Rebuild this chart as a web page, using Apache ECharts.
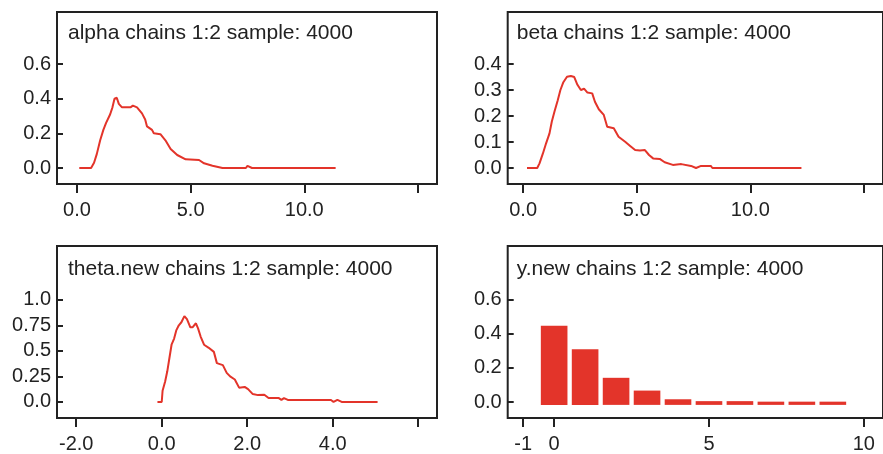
<!DOCTYPE html>
<html>
<head>
<meta charset="utf-8">
<script src="https://cdn.jsdelivr.net/npm/echarts@6/dist/echarts.min.js"></script>
<style>
html,body{margin:0;padding:0;background:#fff;}
#c{width:883px;height:454px;}
</style>
</head>
<body>
<div id="c"></div>
<script>
// ---- data ----
const titles = [
  'alpha chains 1:2 sample: 4000',
  'beta chains 1:2 sample: 4000',
  'theta.new chains 1:2 sample: 4000',
  'y.new chains 1:2 sample: 4000'
];

const alphaX = [0.1,0.62,0.75,0.87,1.02,1.16,1.28,1.46,1.56,1.65,1.75,1.84,1.98,2.35,2.46,2.64,2.86,3.0,3.08,3.3,3.38,3.67,3.89,4.12,4.41,4.78,5.37,5.59,5.96,6.4,7.43,7.5,7.58,7.7,11.38];
const alphaY = [0,0,0.03,0.08,0.16,0.22,0.26,0.31,0.35,0.40,0.405,0.37,0.35,0.35,0.36,0.35,0.315,0.28,0.24,0.22,0.20,0.195,0.16,0.11,0.075,0.05,0.046,0.027,0.013,0,0,0.012,0.012,0,0];

const betaX = [0.17,0.62,0.72,0.87,1.01,1.16,1.26,1.38,1.52,1.64,1.77,1.93,2.1,2.25,2.39,2.54,2.68,2.83,3.04,3.16,3.33,3.55,3.70,3.99,4.20,4.49,4.71,4.93,5.14,5.36,5.54,5.72,6.01,6.23,6.59,6.96,7.39,7.61,7.83,8.26,8.33,12.25];
const betaY = [0,0,0.018,0.056,0.095,0.133,0.178,0.217,0.26,0.30,0.33,0.351,0.354,0.35,0.32,0.30,0.305,0.29,0.287,0.255,0.226,0.204,0.159,0.153,0.12,0.101,0.085,0.069,0.067,0.069,0.05,0.037,0.035,0.022,0.012,0.015,0.008,0,0.008,0.008,0,0];

const thetaX = [-0.1,0.0,0.02,0.08,0.13,0.18,0.23,0.29,0.34,0.40,0.46,0.53,0.59,0.67,0.72,0.80,0.85,0.91,0.99,1.10,1.22,1.29,1.43,1.52,1.60,1.71,1.81,1.94,2.02,2.13,2.25,2.40,2.50,2.74,2.80,2.86,2.95,3.96,4.02,4.11,4.21,5.05];
const thetaY = [0,0,0.11,0.20,0.30,0.43,0.56,0.62,0.70,0.75,0.78,0.84,0.81,0.73,0.73,0.77,0.72,0.64,0.56,0.53,0.49,0.38,0.36,0.285,0.25,0.22,0.14,0.147,0.125,0.077,0.067,0.07,0.038,0.038,0.02,0.038,0.02,0.02,0,0.02,0,0];

const ynewX = [0,1,2,3,4,5,6,7,8,9];
const ynewY = [0.448,0.310,0.142,0.067,0.016,0.005,0.005,0.002,0.002,0.002];

// tick values and labels
const alphaXTicks = [0,5,10,15];
const alphaXLabels = ['0.0','5.0','10.0'];
const alphaYTicks = [0,0.2,0.4,0.6];
const alphaYLabels = ['0.0','0.2','0.4','0.6'];

const betaXTicks = [0,5,10,15];
const betaXLabels = ['0.0','5.0','10.0'];
const betaYTicks = [0,0.1,0.2,0.3,0.4];
const betaYLabels = ['0.0','0.1','0.2','0.3','0.4'];

const thetaXTicks = [-2,0,2,4,6];
const thetaXLabels = ['-2.0','0.0','2.0','4.0'];
const thetaYTicks = [0,0.25,0.5,0.75,1.0];
const thetaYLabels = ['0.0','0.25','0.5','0.75','1.0'];

const ynewXTicks = [-1,0,5,10];
const ynewXLabels = ['-1','0','5','10'];
const ynewYTicks = [0,0.2,0.4,0.6];
const ynewYLabels = ['0.0','0.2','0.4','0.6'];

// ---- chart ----
const RED = '#e3342a';
const INK = '#222';
const FONT = 'Liberation Sans, Arial, sans-serif';

const grids = [
  {left:57, top:12, width:380, height:172},
  {left:507.7, top:12, width:380, height:172},
  {left:57, top:246, width:380, height:175},
  {left:507.7, top:246, width:380, height:175}
];
const xr = [[-0.88,15.84],[-0.68,15.84],[-2.45,6.44],[-1.5,10.62]];
const yr = [[-0.0923,0.9],[-0.0615,0.6],[-0.157,1.526],[-0.094,0.916]];
const xt = [[alphaXTicks,alphaXLabels],[betaXTicks,betaXLabels],[thetaXTicks,thetaXLabels],[ynewXTicks,ynewXLabels]];
const yt = [[alphaYTicks,alphaYLabels],[betaYTicks,betaYLabels],[thetaYTicks,thetaYLabels],[ynewYTicks,ynewYLabels]];

function mkX(i){
  const [ticks, labels] = xt[i];
  return {
    type:'value', gridIndex:i, min:xr[i][0], max:xr[i][1], position:'bottom',
    axisLine:{show:false, onZero:false}, splitLine:{show:false},
    axisTick:{show:true, inside:false, length:9, lineStyle:{color:INK,width:2}, customValues:ticks},
    axisLabel:{show:true, customValues:labels.map(l=>parseFloat(l)), formatter:(v)=>{
      const k = labels.findIndex(l=>Math.abs(parseFloat(l)-v)<1e-9); return k>=0?labels[k]:'';},
      color:INK, fontSize:20, fontFamily:FONT, margin:16, hideOverlap:false, showMinLabel:true, showMaxLabel:true}
  };
}
function mkY(i){
  const [ticks, labels] = yt[i];
  return {
    type:'value', gridIndex:i, min:yr[i][0], max:yr[i][1], position:'left',
    axisLine:{show:false, onZero:false}, splitLine:{show:false},
    axisTick:{show:true, inside:true, length:6, lineStyle:{color:INK,width:2}, customValues:ticks},
    axisLabel:{show:true, customValues:ticks, formatter:(v)=>{
      const k = ticks.findIndex(t=>Math.abs(t-v)<1e-9); return k>=0?labels[k]:'';},
      color:INK, fontSize:20, fontFamily:FONT, margin:6, hideOverlap:false}
  };
}

const BAR_BASE = -0.017;
const BAR_HALF = 0.43;

const option = {
  animation:false,
  backgroundColor:'#fff',
  title: titles.map((t,i)=>({
    text:t, left:[68,516.7,68,516.7][i], top:[23,23,259,259][i],
    textStyle:{color:INK, fontSize:21, fontWeight:'normal', fontFamily:FONT}, padding:0
  })),
  grid: grids.map(g=>Object.assign({show:true, borderColor:INK, borderWidth:2, backgroundColor:'#fff', containLabel:false}, g)),
  xAxis:[0,1,2,3].map(mkX),
  yAxis:[0,1,2,3].map(mkY),
  series:[
    {type:'line', xAxisIndex:0, yAxisIndex:0, data:alphaX.map((x,k)=>[x,alphaY[k]]), showSymbol:false, lineStyle:{color:RED,width:2}, itemStyle:{color:RED}},
    {type:'line', xAxisIndex:1, yAxisIndex:1, data:betaX.map((x,k)=>[x,betaY[k]]), showSymbol:false, lineStyle:{color:RED,width:2}, itemStyle:{color:RED}},
    {type:'line', xAxisIndex:2, yAxisIndex:2, data:thetaX.map((x,k)=>[x,thetaY[k]]), showSymbol:false, lineStyle:{color:RED,width:2}, itemStyle:{color:RED}},
    {type:'custom', xAxisIndex:3, yAxisIndex:3, data:ynewX.map((x,k)=>[x,ynewY[k]]),
      renderItem:(params, api)=>{
        const x = api.value(0), v = api.value(1);
        const p0 = api.coord([x-BAR_HALF, v]);
        const p1 = api.coord([x+BAR_HALF, BAR_BASE]);
        return {type:'rect', shape:{x:p0[0], y:p0[1], width:p1[0]-p0[0], height:p1[1]-p0[1]}, style:{fill:RED}};
      }
    }
  ]
};

const chart = echarts.init(document.getElementById('c'), null, {renderer:'canvas'});
chart.setOption(option);
</script>
</body>
</html>
